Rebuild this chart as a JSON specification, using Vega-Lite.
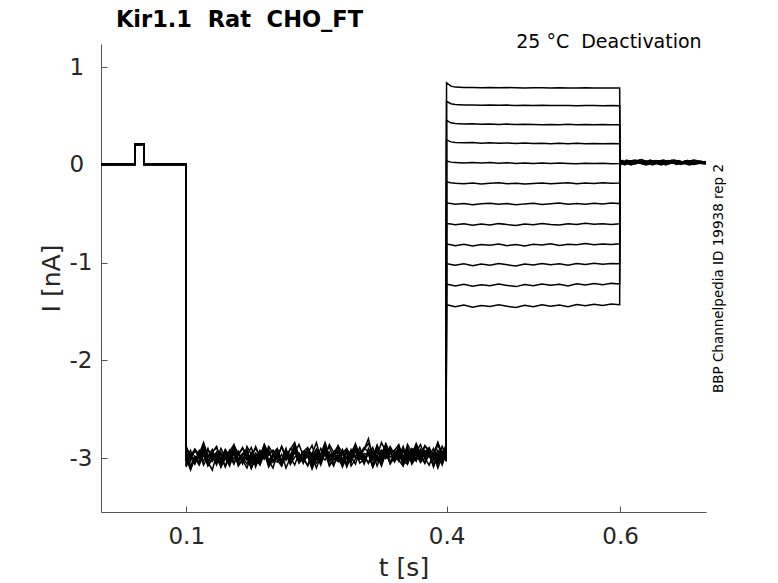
{
"$schema":"https://vega.github.io/schema/vega-lite/v6.json",
"width":605,"height":468,
"autosize":{"type":"none"},
"padding":{"left":101,"top":44,"right":72,"bottom":71},
"background":"white",
"config":{"view":{"stroke":null},"font":"DejaVu Sans"},
"resolve":{"axis":{"y":"independent"}},
"layer":[
{"data":{"values":[
{"k":1,"t":0.0018,"i":0.005},{"k":1,"t":0.041,"i":0.005},{"k":1,"t":0.0412,"i":0.21},{"k":1,"t":0.0513,"i":0.21},{"k":1,"t":0.0515,"i":0.005},{"k":1,"t":0.0995,"i":0.005},
{"k":1,"t":0.1,"i":-2.95},{"k":1,"t":0.105,"i":-3.03},{"k":1,"t":0.11,"i":-2.91},{"k":1,"t":0.115,"i":-3.00},{"k":1,"t":0.12,"i":-2.90},{"k":1,"t":0.125,"i":-3.04},{"k":1,"t":0.13,"i":-2.97},{"k":1,"t":0.135,"i":-3.07},{"k":1,"t":0.14,"i":-2.94},{"k":1,"t":0.145,"i":-3.01},{"k":1,"t":0.15,"i":-2.92},{"k":1,"t":0.155,"i":-3.05},{"k":1,"t":0.16,"i":-2.96},{"k":1,"t":0.165,"i":-2.89},{"k":1,"t":0.17,"i":-3.02},{"k":1,"t":0.175,"i":-2.98},{"k":1,"t":0.18,"i":-3.06},{"k":1,"t":0.185,"i":-2.93},{"k":1,"t":0.19,"i":-2.99},{"k":1,"t":0.195,"i":-2.91},
{"k":1,"t":0.2,"i":-3.03},{"k":1,"t":0.205,"i":-2.94},{"k":1,"t":0.21,"i":-3.07},{"k":1,"t":0.215,"i":-2.93},{"k":1,"t":0.22,"i":-2.99},{"k":1,"t":0.225,"i":-2.89},{"k":1,"t":0.23,"i":-3.02},{"k":1,"t":0.235,"i":-2.96},{"k":1,"t":0.24,"i":-2.91},{"k":1,"t":0.245,"i":-3.04},{"k":1,"t":0.25,"i":-2.95},{"k":1,"t":0.255,"i":-3.00},{"k":1,"t":0.26,"i":-2.88},{"k":1,"t":0.265,"i":-3.03},{"k":1,"t":0.27,"i":-2.97},{"k":1,"t":0.275,"i":-2.92},{"k":1,"t":0.28,"i":-3.05},{"k":1,"t":0.285,"i":-2.94},{"k":1,"t":0.29,"i":-3.01},{"k":1,"t":0.295,"i":-2.90},
{"k":1,"t":0.3,"i":-2.97},{"k":1,"t":0.305,"i":-3.05},{"k":1,"t":0.31,"i":-2.90},{"k":1,"t":0.315,"i":-2.98},{"k":1,"t":0.32,"i":-2.92},{"k":1,"t":0.325,"i":-3.01},{"k":1,"t":0.33,"i":-2.88},{"k":1,"t":0.335,"i":-2.99},{"k":1,"t":0.34,"i":-2.95},{"k":1,"t":0.345,"i":-3.03},{"k":1,"t":0.35,"i":-2.91},{"k":1,"t":0.355,"i":-3.00},{"k":1,"t":0.36,"i":-2.94},{"k":1,"t":0.365,"i":-2.87},{"k":1,"t":0.37,"i":-3.02},{"k":1,"t":0.375,"i":-2.96},{"k":1,"t":0.38,"i":-2.98},{"k":1,"t":0.385,"i":-2.90},{"k":1,"t":0.39,"i":-3.04},{"k":1,"t":0.395,"i":-2.93},{"k":1,"t":0.3995,"i":-3.01},
{"k":1,"t":0.4,"i":0.84},{"k":1,"t":0.405,"i":0.805},{"k":1,"t":0.41,"i":0.795},{"k":1,"t":0.42,"i":0.79},{"k":1,"t":0.43,"i":0.792},{"k":1,"t":0.44,"i":0.789},{"k":1,"t":0.45,"i":0.79},{"k":1,"t":0.46,"i":0.788},{"k":1,"t":0.47,"i":0.79},{"k":1,"t":0.48,"i":0.789},{"k":1,"t":0.49,"i":0.787},{"k":1,"t":0.5,"i":0.789},{"k":1,"t":0.51,"i":0.788},{"k":1,"t":0.52,"i":0.786},{"k":1,"t":0.53,"i":0.788},{"k":1,"t":0.54,"i":0.787},{"k":1,"t":0.55,"i":0.786},{"k":1,"t":0.56,"i":0.788},{"k":1,"t":0.57,"i":0.786},{"k":1,"t":0.58,"i":0.787},{"k":1,"t":0.59,"i":0.786},{"k":1,"t":0.5995,"i":0.786},
{"k":1,"t":0.6,"i":0.04},{"k":1,"t":0.61,"i":0.02},{"k":1,"t":0.62,"i":0.045},{"k":1,"t":0.63,"i":0.01},{"k":1,"t":0.64,"i":0.035},{"k":1,"t":0.65,"i":0.015},{"k":1,"t":0.66,"i":0.04},{"k":1,"t":0.67,"i":0.005},{"k":1,"t":0.68,"i":0.03},{"k":1,"t":0.69,"i":0.02},{"k":1,"t":0.699,"i":0.025},
{"k":2,"t":0.0018,"i":0},{"k":2,"t":0.041,"i":0},{"k":2,"t":0.0412,"i":0.205},{"k":2,"t":0.0513,"i":0.205},{"k":2,"t":0.0515,"i":0},{"k":2,"t":0.0995,"i":0},
{"k":2,"t":0.1,"i":-3.09},{"k":2,"t":0.105,"i":-2.96},{"k":2,"t":0.11,"i":-3.03},{"k":2,"t":0.115,"i":-2.94},{"k":2,"t":0.12,"i":-3.07},{"k":2,"t":0.125,"i":-2.98},{"k":2,"t":0.13,"i":-2.91},{"k":2,"t":0.135,"i":-3.04},{"k":2,"t":0.14,"i":-3.00},{"k":2,"t":0.145,"i":-3.08},{"k":2,"t":0.15,"i":-2.95},{"k":2,"t":0.155,"i":-3.01},{"k":2,"t":0.16,"i":-2.93},{"k":2,"t":0.165,"i":-3.06},{"k":2,"t":0.17,"i":-2.97},{"k":2,"t":0.175,"i":-3.10},{"k":2,"t":0.18,"i":-2.96},{"k":2,"t":0.185,"i":-3.02},{"k":2,"t":0.19,"i":-2.92},{"k":2,"t":0.195,"i":-3.05},
{"k":2,"t":0.2,"i":-2.98},{"k":2,"t":0.205,"i":-2.93},{"k":2,"t":0.21,"i":-3.06},{"k":2,"t":0.215,"i":-2.97},{"k":2,"t":0.22,"i":-3.02},{"k":2,"t":0.225,"i":-2.90},{"k":2,"t":0.23,"i":-3.05},{"k":2,"t":0.235,"i":-2.99},{"k":2,"t":0.24,"i":-2.94},{"k":2,"t":0.245,"i":-3.07},{"k":2,"t":0.25,"i":-2.96},{"k":2,"t":0.255,"i":-3.03},{"k":2,"t":0.26,"i":-2.92},{"k":2,"t":0.265,"i":-3.00},{"k":2,"t":0.27,"i":-3.08},{"k":2,"t":0.275,"i":-2.93},{"k":2,"t":0.28,"i":-3.01},{"k":2,"t":0.285,"i":-2.95},{"k":2,"t":0.29,"i":-3.04},{"k":2,"t":0.295,"i":-2.91},
{"k":2,"t":0.3,"i":-3.01},{"k":2,"t":0.305,"i":-2.97},{"k":2,"t":0.31,"i":-3.05},{"k":2,"t":0.315,"i":-2.93},{"k":2,"t":0.32,"i":-3.02},{"k":2,"t":0.325,"i":-2.96},{"k":2,"t":0.33,"i":-2.89},{"k":2,"t":0.335,"i":-3.04},{"k":2,"t":0.34,"i":-2.98},{"k":2,"t":0.345,"i":-3.00},{"k":2,"t":0.35,"i":-2.92},{"k":2,"t":0.355,"i":-3.06},{"k":2,"t":0.36,"i":-2.95},{"k":2,"t":0.365,"i":-3.03},{"k":2,"t":0.37,"i":-2.91},{"k":2,"t":0.375,"i":-2.99},{"k":2,"t":0.38,"i":-2.94},{"k":2,"t":0.385,"i":-3.07},{"k":2,"t":0.39,"i":-2.96},{"k":2,"t":0.395,"i":-3.01},{"k":2,"t":0.3995,"i":-2.90},
{"k":2,"t":0.4,"i":0.65},{"k":2,"t":0.405,"i":0.625},{"k":2,"t":0.41,"i":0.617},{"k":2,"t":0.42,"i":0.613},{"k":2,"t":0.43,"i":0.612},{"k":2,"t":0.44,"i":0.61},{"k":2,"t":0.45,"i":0.612},{"k":2,"t":0.46,"i":0.609},{"k":2,"t":0.47,"i":0.611},{"k":2,"t":0.48,"i":0.608},{"k":2,"t":0.49,"i":0.61},{"k":2,"t":0.5,"i":0.607},{"k":2,"t":0.51,"i":0.609},{"k":2,"t":0.52,"i":0.606},{"k":2,"t":0.53,"i":0.608},{"k":2,"t":0.54,"i":0.607},{"k":2,"t":0.55,"i":0.605},{"k":2,"t":0.56,"i":0.607},{"k":2,"t":0.57,"i":0.606},{"k":2,"t":0.58,"i":0.605},{"k":2,"t":0.59,"i":0.607},{"k":2,"t":0.5995,"i":0.605},
{"k":2,"t":0.6,"i":0.01},{"k":2,"t":0.6075,"i":0.05},{"k":2,"t":0.6175,"i":0.015},{"k":2,"t":0.6275,"i":0.04},{"k":2,"t":0.6375,"i":0.0},{"k":2,"t":0.6475,"i":0.035},{"k":2,"t":0.6575,"i":0.02},{"k":2,"t":0.6675,"i":0.045},{"k":2,"t":0.6775,"i":0.01},{"k":2,"t":0.6875,"i":0.03},{"k":2,"t":0.699,"i":0.015},
{"k":3,"t":0.0018,"i":0.01},{"k":3,"t":0.041,"i":0.01},{"k":3,"t":0.0412,"i":0.215},{"k":3,"t":0.0513,"i":0.215},{"k":3,"t":0.0515,"i":0.01},{"k":3,"t":0.0995,"i":0.01},
{"k":3,"t":0.1,"i":-3.01},{"k":3,"t":0.105,"i":-2.97},{"k":3,"t":0.11,"i":-3.05},{"k":3,"t":0.115,"i":-2.92},{"k":3,"t":0.12,"i":-2.98},{"k":3,"t":0.125,"i":-2.90},{"k":3,"t":0.13,"i":-3.03},{"k":3,"t":0.135,"i":-2.94},{"k":3,"t":0.14,"i":-3.07},{"k":3,"t":0.145,"i":-2.93},{"k":3,"t":0.15,"i":-2.99},{"k":3,"t":0.155,"i":-2.89},{"k":3,"t":0.16,"i":-3.02},{"k":3,"t":0.165,"i":-2.96},{"k":3,"t":0.17,"i":-2.91},{"k":3,"t":0.175,"i":-3.04},{"k":3,"t":0.18,"i":-2.95},{"k":3,"t":0.185,"i":-3.00},{"k":3,"t":0.19,"i":-2.88},{"k":3,"t":0.195,"i":-3.03},
{"k":3,"t":0.2,"i":-2.96},{"k":3,"t":0.205,"i":-2.91},{"k":3,"t":0.21,"i":-3.04},{"k":3,"t":0.215,"i":-2.93},{"k":3,"t":0.22,"i":-3.00},{"k":3,"t":0.225,"i":-2.89},{"k":3,"t":0.23,"i":-2.97},{"k":3,"t":0.235,"i":-3.05},{"k":3,"t":0.24,"i":-2.90},{"k":3,"t":0.245,"i":-2.98},{"k":3,"t":0.25,"i":-2.92},{"k":3,"t":0.255,"i":-3.01},{"k":3,"t":0.26,"i":-2.88},{"k":3,"t":0.265,"i":-2.99},{"k":3,"t":0.27,"i":-2.95},{"k":3,"t":0.275,"i":-3.03},{"k":3,"t":0.28,"i":-2.91},{"k":3,"t":0.285,"i":-3.00},{"k":3,"t":0.29,"i":-2.94},{"k":3,"t":0.295,"i":-2.87},
{"k":3,"t":0.3,"i":-3.01},{"k":3,"t":0.305,"i":-2.95},{"k":3,"t":0.31,"i":-2.97},{"k":3,"t":0.315,"i":-2.89},{"k":3,"t":0.32,"i":-3.03},{"k":3,"t":0.325,"i":-2.92},{"k":3,"t":0.33,"i":-3.00},{"k":3,"t":0.335,"i":-2.88},{"k":3,"t":0.34,"i":-2.96},{"k":3,"t":0.345,"i":-2.91},{"k":3,"t":0.35,"i":-3.04},{"k":3,"t":0.355,"i":-2.93},{"k":3,"t":0.36,"i":-2.98},{"k":3,"t":0.365,"i":-2.87},{"k":3,"t":0.37,"i":-3.01},{"k":3,"t":0.375,"i":-2.94},{"k":3,"t":0.38,"i":-2.90},{"k":3,"t":0.385,"i":-3.02},{"k":3,"t":0.39,"i":-2.92},{"k":3,"t":0.395,"i":-2.97},{"k":3,"t":0.3995,"i":-2.86},
{"k":3,"t":0.4,"i":0.455},{"k":3,"t":0.405,"i":0.43},{"k":3,"t":0.41,"i":0.423},{"k":3,"t":0.42,"i":0.418},{"k":3,"t":0.43,"i":0.42},{"k":3,"t":0.44,"i":0.415},{"k":3,"t":0.45,"i":0.418},{"k":3,"t":0.46,"i":0.414},{"k":3,"t":0.47,"i":0.417},{"k":3,"t":0.48,"i":0.412},{"k":3,"t":0.49,"i":0.416},{"k":3,"t":0.5,"i":0.413},{"k":3,"t":0.51,"i":0.41},{"k":3,"t":0.52,"i":0.414},{"k":3,"t":0.53,"i":0.411},{"k":3,"t":0.54,"i":0.415},{"k":3,"t":0.55,"i":0.41},{"k":3,"t":0.56,"i":0.413},{"k":3,"t":0.57,"i":0.409},{"k":3,"t":0.58,"i":0.412},{"k":3,"t":0.59,"i":0.41},{"k":3,"t":0.5995,"i":0.411},
{"k":3,"t":0.6,"i":0.03},{"k":3,"t":0.605,"i":0.0},{"k":3,"t":0.615,"i":0.035},{"k":3,"t":0.625,"i":0.02},{"k":3,"t":0.635,"i":0.05},{"k":3,"t":0.645,"i":0.01},{"k":3,"t":0.655,"i":0.03},{"k":3,"t":0.665,"i":0.015},{"k":3,"t":0.675,"i":0.04},{"k":3,"t":0.685,"i":0.005},{"k":3,"t":0.699,"i":0.03},
{"k":4,"t":0.0018,"i":0.005},{"k":4,"t":0.041,"i":0.005},{"k":4,"t":0.0412,"i":0.21},{"k":4,"t":0.0513,"i":0.21},{"k":4,"t":0.0515,"i":0.005},{"k":4,"t":0.0995,"i":0.005},
{"k":4,"t":0.1,"i":-2.99},{"k":4,"t":0.105,"i":-3.12},{"k":4,"t":0.11,"i":-2.98},{"k":4,"t":0.115,"i":-3.04},{"k":4,"t":0.12,"i":-2.94},{"k":4,"t":0.125,"i":-3.07},{"k":4,"t":0.13,"i":-3.01},{"k":4,"t":0.135,"i":-2.96},{"k":4,"t":0.14,"i":-3.09},{"k":4,"t":0.145,"i":-3.00},{"k":4,"t":0.15,"i":-3.05},{"k":4,"t":0.155,"i":-2.93},{"k":4,"t":0.16,"i":-3.08},{"k":4,"t":0.165,"i":-3.02},{"k":4,"t":0.17,"i":-2.97},{"k":4,"t":0.175,"i":-3.10},{"k":4,"t":0.18,"i":-2.99},{"k":4,"t":0.185,"i":-3.06},{"k":4,"t":0.19,"i":-2.95},{"k":4,"t":0.195,"i":-3.03},
{"k":4,"t":0.2,"i":-3.10},{"k":4,"t":0.205,"i":-2.95},{"k":4,"t":0.21,"i":-3.03},{"k":4,"t":0.215,"i":-2.97},{"k":4,"t":0.22,"i":-3.06},{"k":4,"t":0.225,"i":-2.93},{"k":4,"t":0.23,"i":-3.04},{"k":4,"t":0.235,"i":-3.00},{"k":4,"t":0.24,"i":-3.08},{"k":4,"t":0.245,"i":-2.96},{"k":4,"t":0.25,"i":-3.05},{"k":4,"t":0.255,"i":-2.99},{"k":4,"t":0.26,"i":-2.92},{"k":4,"t":0.265,"i":-3.07},{"k":4,"t":0.27,"i":-3.01},{"k":4,"t":0.275,"i":-3.03},{"k":4,"t":0.28,"i":-2.95},{"k":4,"t":0.285,"i":-3.09},{"k":4,"t":0.29,"i":-2.98},{"k":4,"t":0.295,"i":-3.06},
{"k":4,"t":0.3,"i":-2.93},{"k":4,"t":0.305,"i":-3.01},{"k":4,"t":0.31,"i":-2.96},{"k":4,"t":0.315,"i":-3.09},{"k":4,"t":0.32,"i":-2.98},{"k":4,"t":0.325,"i":-3.03},{"k":4,"t":0.33,"i":-2.92},{"k":4,"t":0.335,"i":-3.06},{"k":4,"t":0.34,"i":-2.99},{"k":4,"t":0.345,"i":-2.95},{"k":4,"t":0.35,"i":-3.07},{"k":4,"t":0.355,"i":-2.97},{"k":4,"t":0.36,"i":-3.02},{"k":4,"t":0.365,"i":-2.90},{"k":4,"t":0.37,"i":-3.04},{"k":4,"t":0.375,"i":-3.00},{"k":4,"t":0.38,"i":-2.94},{"k":4,"t":0.385,"i":-3.08},{"k":4,"t":0.39,"i":-2.98},{"k":4,"t":0.395,"i":-3.05},{"k":4,"t":0.3995,"i":-2.93},
{"k":4,"t":0.4,"i":0.255},{"k":4,"t":0.405,"i":0.235},{"k":4,"t":0.41,"i":0.228},{"k":4,"t":0.42,"i":0.225},{"k":4,"t":0.43,"i":0.228},{"k":4,"t":0.44,"i":0.222},{"k":4,"t":0.45,"i":0.226},{"k":4,"t":0.46,"i":0.22},{"k":4,"t":0.47,"i":0.224},{"k":4,"t":0.48,"i":0.219},{"k":4,"t":0.49,"i":0.223},{"k":4,"t":0.5,"i":0.218},{"k":4,"t":0.51,"i":0.222},{"k":4,"t":0.52,"i":0.217},{"k":4,"t":0.53,"i":0.221},{"k":4,"t":0.54,"i":0.216},{"k":4,"t":0.55,"i":0.22},{"k":4,"t":0.56,"i":0.215},{"k":4,"t":0.57,"i":0.219},{"k":4,"t":0.58,"i":0.216},{"k":4,"t":0.59,"i":0.218},{"k":4,"t":0.5995,"i":0.217},
{"k":4,"t":0.6,"i":0.05},{"k":4,"t":0.6025,"i":0.025},{"k":4,"t":0.6125,"i":0.005},{"k":4,"t":0.6225,"i":0.04},{"k":4,"t":0.6325,"i":0.015},{"k":4,"t":0.6425,"i":0.045},{"k":4,"t":0.6525,"i":0.0},{"k":4,"t":0.6625,"i":0.03},{"k":4,"t":0.6725,"i":0.02},{"k":4,"t":0.6825,"i":0.04},{"k":4,"t":0.6925,"i":0.02},{"k":4,"t":0.699,"i":0.03},
{"k":5,"t":0.0018,"i":0},{"k":5,"t":0.041,"i":0},{"k":5,"t":0.0412,"i":0.205},{"k":5,"t":0.0513,"i":0.205},{"k":5,"t":0.0515,"i":0},{"k":5,"t":0.0995,"i":0},
{"k":5,"t":0.1,"i":-2.88},{"k":5,"t":0.105,"i":-3.01},{"k":5,"t":0.11,"i":-2.92},{"k":5,"t":0.115,"i":-2.97},{"k":5,"t":0.12,"i":-2.85},{"k":5,"t":0.125,"i":-3.00},{"k":5,"t":0.13,"i":-2.94},{"k":5,"t":0.135,"i":-2.89},{"k":5,"t":0.14,"i":-3.02},{"k":5,"t":0.145,"i":-2.91},{"k":5,"t":0.15,"i":-2.98},{"k":5,"t":0.155,"i":-2.87},{"k":5,"t":0.16,"i":-2.95},{"k":5,"t":0.165,"i":-3.03},{"k":5,"t":0.17,"i":-2.88},{"k":5,"t":0.175,"i":-2.96},{"k":5,"t":0.18,"i":-2.90},{"k":5,"t":0.185,"i":-2.99},{"k":5,"t":0.19,"i":-2.86},{"k":5,"t":0.195,"i":-2.97},
{"k":5,"t":0.2,"i":-2.92},{"k":5,"t":0.205,"i":-3.00},{"k":5,"t":0.21,"i":-2.88},{"k":5,"t":0.215,"i":-2.97},{"k":5,"t":0.22,"i":-2.91},{"k":5,"t":0.225,"i":-2.84},{"k":5,"t":0.23,"i":-2.99},{"k":5,"t":0.235,"i":-2.93},{"k":5,"t":0.24,"i":-2.95},{"k":5,"t":0.245,"i":-2.87},{"k":5,"t":0.25,"i":-3.01},{"k":5,"t":0.255,"i":-2.90},{"k":5,"t":0.26,"i":-2.98},{"k":5,"t":0.265,"i":-2.86},{"k":5,"t":0.27,"i":-2.94},{"k":5,"t":0.275,"i":-2.89},{"k":5,"t":0.28,"i":-3.02},{"k":5,"t":0.285,"i":-2.91},{"k":5,"t":0.29,"i":-2.96},{"k":5,"t":0.295,"i":-2.85},
{"k":5,"t":0.3,"i":-2.98},{"k":5,"t":0.305,"i":-2.91},{"k":5,"t":0.31,"i":-2.80},{"k":5,"t":0.315,"i":-2.99},{"k":5,"t":0.32,"i":-2.89},{"k":5,"t":0.325,"i":-2.94},{"k":5,"t":0.33,"i":-2.88},{"k":5,"t":0.335,"i":-2.96},{"k":5,"t":0.34,"i":-2.92},{"k":5,"t":0.345,"i":-2.86},{"k":5,"t":0.35,"i":-3.00},{"k":5,"t":0.355,"i":-2.90},{"k":5,"t":0.36,"i":-2.97},{"k":5,"t":0.365,"i":-2.85},{"k":5,"t":0.37,"i":-2.95},{"k":5,"t":0.375,"i":-2.88},{"k":5,"t":0.38,"i":-2.93},{"k":5,"t":0.385,"i":-2.99},{"k":5,"t":0.39,"i":-2.86},{"k":5,"t":0.395,"i":-2.96},{"k":5,"t":0.3995,"i":-2.90},
{"k":5,"t":0.4,"i":0.04},{"k":5,"t":0.405,"i":0.028},{"k":5,"t":0.41,"i":0.025},{"k":5,"t":0.42,"i":0.02},{"k":5,"t":0.43,"i":0.024},{"k":5,"t":0.44,"i":0.018},{"k":5,"t":0.45,"i":0.023},{"k":5,"t":0.46,"i":0.016},{"k":5,"t":0.47,"i":0.021},{"k":5,"t":0.48,"i":0.015},{"k":5,"t":0.49,"i":0.02},{"k":5,"t":0.5,"i":0.014},{"k":5,"t":0.51,"i":0.019},{"k":5,"t":0.52,"i":0.013},{"k":5,"t":0.53,"i":0.018},{"k":5,"t":0.54,"i":0.015},{"k":5,"t":0.55,"i":0.011},{"k":5,"t":0.56,"i":0.017},{"k":5,"t":0.57,"i":0.013},{"k":5,"t":0.58,"i":0.016},{"k":5,"t":0.59,"i":0.012},{"k":5,"t":0.5995,"i":0.015},
{"k":5,"t":0.6,"i":0.02},{"k":5,"t":0.61,"i":0.04},{"k":5,"t":0.62,"i":0.025},{"k":5,"t":0.63,"i":0.0},{"k":5,"t":0.64,"i":0.03},{"k":5,"t":0.65,"i":0.05},{"k":5,"t":0.66,"i":0.02},{"k":5,"t":0.67,"i":0.035},{"k":5,"t":0.68,"i":0.005},{"k":5,"t":0.69,"i":0.025},{"k":5,"t":0.699,"i":0.035},
{"k":6,"t":0.0018,"i":0.01},{"k":6,"t":0.041,"i":0.01},{"k":6,"t":0.0412,"i":0.215},{"k":6,"t":0.0513,"i":0.215},{"k":6,"t":0.0515,"i":0.01},{"k":6,"t":0.0995,"i":0.01},
{"k":6,"t":0.1,"i":-2.98},{"k":6,"t":0.105,"i":-3.11},{"k":6,"t":0.11,"i":-3.00},{"k":6,"t":0.115,"i":-3.07},{"k":6,"t":0.12,"i":-2.96},{"k":6,"t":0.125,"i":-3.04},{"k":6,"t":0.13,"i":-3.12},{"k":6,"t":0.135,"i":-2.97},{"k":6,"t":0.14,"i":-3.05},{"k":6,"t":0.145,"i":-2.99},{"k":6,"t":0.15,"i":-3.08},{"k":6,"t":0.155,"i":-2.95},{"k":6,"t":0.16,"i":-3.06},{"k":6,"t":0.165,"i":-3.02},{"k":6,"t":0.17,"i":-3.10},{"k":6,"t":0.175,"i":-2.98},{"k":6,"t":0.18,"i":-3.07},{"k":6,"t":0.185,"i":-3.01},{"k":6,"t":0.19,"i":-2.94},{"k":6,"t":0.195,"i":-3.09},
{"k":6,"t":0.2,"i":-3.02},{"k":6,"t":0.205,"i":-3.04},{"k":6,"t":0.21,"i":-2.96},{"k":6,"t":0.215,"i":-3.10},{"k":6,"t":0.22,"i":-2.99},{"k":6,"t":0.225,"i":-3.07},{"k":6,"t":0.23,"i":-2.95},{"k":6,"t":0.235,"i":-3.03},{"k":6,"t":0.24,"i":-2.98},{"k":6,"t":0.245,"i":-3.11},{"k":6,"t":0.25,"i":-3.00},{"k":6,"t":0.255,"i":-3.05},{"k":6,"t":0.26,"i":-2.94},{"k":6,"t":0.265,"i":-3.08},{"k":6,"t":0.27,"i":-3.01},{"k":6,"t":0.275,"i":-2.97},{"k":6,"t":0.28,"i":-3.09},{"k":6,"t":0.285,"i":-2.99},{"k":6,"t":0.29,"i":-3.04},{"k":6,"t":0.295,"i":-2.92},
{"k":6,"t":0.3,"i":-3.05},{"k":6,"t":0.305,"i":-3.01},{"k":6,"t":0.31,"i":-2.95},{"k":6,"t":0.315,"i":-3.09},{"k":6,"t":0.32,"i":-2.99},{"k":6,"t":0.325,"i":-3.06},{"k":6,"t":0.33,"i":-2.94},{"k":6,"t":0.335,"i":-3.04},{"k":6,"t":0.34,"i":-2.97},{"k":6,"t":0.345,"i":-3.02},{"k":6,"t":0.35,"i":-3.08},{"k":6,"t":0.355,"i":-2.95},{"k":6,"t":0.36,"i":-3.05},{"k":6,"t":0.365,"i":-2.93},{"k":6,"t":0.37,"i":-3.03},{"k":6,"t":0.375,"i":-3.00},{"k":6,"t":0.38,"i":-3.07},{"k":6,"t":0.385,"i":-2.96},{"k":6,"t":0.39,"i":-3.10},{"k":6,"t":0.395,"i":-2.98},{"k":6,"t":0.3995,"i":-3.02},
{"k":6,"t":0.4,"i":-0.175},{"k":6,"t":0.405,"i":-0.183},{"k":6,"t":0.41,"i":-0.188},{"k":6,"t":0.42,"i":-0.192},{"k":6,"t":0.43,"i":-0.186},{"k":6,"t":0.44,"i":-0.195},{"k":6,"t":0.45,"i":-0.189},{"k":6,"t":0.46,"i":-0.184},{"k":6,"t":0.47,"i":-0.193},{"k":6,"t":0.48,"i":-0.187},{"k":6,"t":0.49,"i":-0.196},{"k":6,"t":0.5,"i":-0.19},{"k":6,"t":0.51,"i":-0.185},{"k":6,"t":0.52,"i":-0.194},{"k":6,"t":0.53,"i":-0.188},{"k":6,"t":0.54,"i":-0.183},{"k":6,"t":0.55,"i":-0.192},{"k":6,"t":0.56,"i":-0.186},{"k":6,"t":0.57,"i":-0.19},{"k":6,"t":0.58,"i":-0.184},{"k":6,"t":0.59,"i":-0.189},{"k":6,"t":0.5995,"i":-0.186},
{"k":6,"t":0.6,"i":0.0},{"k":6,"t":0.6075,"i":0.03},{"k":6,"t":0.6175,"i":0.05},{"k":6,"t":0.6275,"i":0.02},{"k":6,"t":0.6375,"i":0.04},{"k":6,"t":0.6475,"i":0.005},{"k":6,"t":0.6575,"i":0.035},{"k":6,"t":0.6675,"i":0.015},{"k":6,"t":0.6775,"i":0.045},{"k":6,"t":0.6875,"i":0.02},{"k":6,"t":0.699,"i":0.01},
{"k":7,"t":0.0018,"i":0.005},{"k":7,"t":0.041,"i":0.005},{"k":7,"t":0.0412,"i":0.21},{"k":7,"t":0.0513,"i":0.21},{"k":7,"t":0.0515,"i":0.005},{"k":7,"t":0.0995,"i":0.005},
{"k":7,"t":0.1,"i":-2.89},{"k":7,"t":0.105,"i":-2.97},{"k":7,"t":0.11,"i":-2.91},{"k":7,"t":0.115,"i":-3.00},{"k":7,"t":0.12,"i":-2.87},{"k":7,"t":0.125,"i":-2.98},{"k":7,"t":0.13,"i":-2.94},{"k":7,"t":0.135,"i":-3.02},{"k":7,"t":0.14,"i":-2.90},{"k":7,"t":0.145,"i":-2.99},{"k":7,"t":0.15,"i":-2.93},{"k":7,"t":0.155,"i":-2.86},{"k":7,"t":0.16,"i":-3.01},{"k":7,"t":0.165,"i":-2.95},{"k":7,"t":0.17,"i":-2.97},{"k":7,"t":0.175,"i":-2.89},{"k":7,"t":0.18,"i":-3.03},{"k":7,"t":0.185,"i":-2.92},{"k":7,"t":0.19,"i":-3.00},{"k":7,"t":0.195,"i":-2.88},
{"k":7,"t":0.2,"i":-2.95},{"k":7,"t":0.205,"i":-2.90},{"k":7,"t":0.21,"i":-3.03},{"k":7,"t":0.215,"i":-2.92},{"k":7,"t":0.22,"i":-2.97},{"k":7,"t":0.225,"i":-2.86},{"k":7,"t":0.23,"i":-3.00},{"k":7,"t":0.235,"i":-2.93},{"k":7,"t":0.24,"i":-2.89},{"k":7,"t":0.245,"i":-3.01},{"k":7,"t":0.25,"i":-2.91},{"k":7,"t":0.255,"i":-2.96},{"k":7,"t":0.26,"i":-2.84},{"k":7,"t":0.265,"i":-2.98},{"k":7,"t":0.27,"i":-2.94},{"k":7,"t":0.275,"i":-2.88},{"k":7,"t":0.28,"i":-3.02},{"k":7,"t":0.285,"i":-2.92},{"k":7,"t":0.29,"i":-2.99},{"k":7,"t":0.295,"i":-2.87},
{"k":7,"t":0.3,"i":-2.96},{"k":7,"t":0.305,"i":-2.89},{"k":7,"t":0.31,"i":-2.94},{"k":7,"t":0.315,"i":-3.00},{"k":7,"t":0.32,"i":-2.87},{"k":7,"t":0.325,"i":-2.97},{"k":7,"t":0.33,"i":-2.85},{"k":7,"t":0.335,"i":-2.95},{"k":7,"t":0.34,"i":-2.92},{"k":7,"t":0.345,"i":-2.99},{"k":7,"t":0.35,"i":-2.88},{"k":7,"t":0.355,"i":-3.02},{"k":7,"t":0.36,"i":-2.90},{"k":7,"t":0.365,"i":-2.94},{"k":7,"t":0.37,"i":-2.86},{"k":7,"t":0.375,"i":-2.98},{"k":7,"t":0.38,"i":-2.91},{"k":7,"t":0.385,"i":-2.96},{"k":7,"t":0.39,"i":-2.84},{"k":7,"t":0.395,"i":-3.00},{"k":7,"t":0.3995,"i":-2.93},
{"k":7,"t":0.4,"i":-0.39},{"k":7,"t":0.405,"i":-0.395},{"k":7,"t":0.41,"i":-0.402},{"k":7,"t":0.42,"i":-0.395},{"k":7,"t":0.43,"i":-0.407},{"k":7,"t":0.44,"i":-0.398},{"k":7,"t":0.45,"i":-0.392},{"k":7,"t":0.46,"i":-0.404},{"k":7,"t":0.47,"i":-0.396},{"k":7,"t":0.48,"i":-0.409},{"k":7,"t":0.49,"i":-0.399},{"k":7,"t":0.5,"i":-0.393},{"k":7,"t":0.51,"i":-0.405},{"k":7,"t":0.52,"i":-0.397},{"k":7,"t":0.53,"i":-0.39},{"k":7,"t":0.54,"i":-0.402},{"k":7,"t":0.55,"i":-0.395},{"k":7,"t":0.56,"i":-0.404},{"k":7,"t":0.57,"i":-0.393},{"k":7,"t":0.58,"i":-0.399},{"k":7,"t":0.59,"i":-0.391},{"k":7,"t":0.5995,"i":-0.396},
{"k":7,"t":0.6,"i":0.035},{"k":7,"t":0.605,"i":0.01},{"k":7,"t":0.615,"i":0.03},{"k":7,"t":0.625,"i":0.055},{"k":7,"t":0.635,"i":0.01},{"k":7,"t":0.645,"i":0.025},{"k":7,"t":0.655,"i":0.045},{"k":7,"t":0.665,"i":0.005},{"k":7,"t":0.675,"i":0.03},{"k":7,"t":0.685,"i":0.05},{"k":7,"t":0.699,"i":0.025},
{"k":8,"t":0.0018,"i":0},{"k":8,"t":0.041,"i":0},{"k":8,"t":0.0412,"i":0.205},{"k":8,"t":0.0513,"i":0.205},{"k":8,"t":0.0515,"i":0},{"k":8,"t":0.0995,"i":0},
{"k":8,"t":0.1,"i":-3.08},{"k":8,"t":0.105,"i":-2.96},{"k":8,"t":0.11,"i":-3.05},{"k":8,"t":0.115,"i":-2.99},{"k":8,"t":0.12,"i":-2.92},{"k":8,"t":0.125,"i":-3.07},{"k":8,"t":0.13,"i":-3.01},{"k":8,"t":0.135,"i":-3.03},{"k":8,"t":0.14,"i":-2.95},{"k":8,"t":0.145,"i":-3.09},{"k":8,"t":0.15,"i":-2.98},{"k":8,"t":0.155,"i":-3.06},{"k":8,"t":0.16,"i":-2.94},{"k":8,"t":0.165,"i":-3.02},{"k":8,"t":0.17,"i":-2.97},{"k":8,"t":0.175,"i":-3.10},{"k":8,"t":0.18,"i":-2.99},{"k":8,"t":0.185,"i":-3.04},{"k":8,"t":0.19,"i":-2.93},{"k":8,"t":0.195,"i":-3.07},
{"k":8,"t":0.2,"i":-2.99},{"k":8,"t":0.205,"i":-2.95},{"k":8,"t":0.21,"i":-3.07},{"k":8,"t":0.215,"i":-2.97},{"k":8,"t":0.22,"i":-3.02},{"k":8,"t":0.225,"i":-2.90},{"k":8,"t":0.23,"i":-3.04},{"k":8,"t":0.235,"i":-3.00},{"k":8,"t":0.24,"i":-2.94},{"k":8,"t":0.245,"i":-3.08},{"k":8,"t":0.25,"i":-2.98},{"k":8,"t":0.255,"i":-3.05},{"k":8,"t":0.26,"i":-2.93},{"k":8,"t":0.265,"i":-3.03},{"k":8,"t":0.27,"i":-2.96},{"k":8,"t":0.275,"i":-3.01},{"k":8,"t":0.28,"i":-3.07},{"k":8,"t":0.285,"i":-2.94},{"k":8,"t":0.29,"i":-3.04},{"k":8,"t":0.295,"i":-2.92},
{"k":8,"t":0.3,"i":-3.01},{"k":8,"t":0.305,"i":-2.98},{"k":8,"t":0.31,"i":-3.05},{"k":8,"t":0.315,"i":-2.94},{"k":8,"t":0.32,"i":-3.08},{"k":8,"t":0.325,"i":-2.96},{"k":8,"t":0.33,"i":-3.00},{"k":8,"t":0.335,"i":-2.92},{"k":8,"t":0.34,"i":-3.04},{"k":8,"t":0.345,"i":-2.97},{"k":8,"t":0.35,"i":-3.02},{"k":8,"t":0.355,"i":-2.90},{"k":8,"t":0.36,"i":-3.06},{"k":8,"t":0.365,"i":-2.99},{"k":8,"t":0.37,"i":-2.95},{"k":8,"t":0.375,"i":-3.05},{"k":8,"t":0.38,"i":-2.93},{"k":8,"t":0.385,"i":-3.01},{"k":8,"t":0.39,"i":-2.96},{"k":8,"t":0.395,"i":-3.07},{"k":8,"t":0.3995,"i":-2.94},
{"k":8,"t":0.4,"i":-0.6},{"k":8,"t":0.405,"i":-0.605},{"k":8,"t":0.41,"i":-0.612},{"k":8,"t":0.42,"i":-0.603},{"k":8,"t":0.43,"i":-0.617},{"k":8,"t":0.44,"i":-0.606},{"k":8,"t":0.45,"i":-0.614},{"k":8,"t":0.46,"i":-0.601},{"k":8,"t":0.47,"i":-0.611},{"k":8,"t":0.48,"i":-0.619},{"k":8,"t":0.49,"i":-0.604},{"k":8,"t":0.5,"i":-0.613},{"k":8,"t":0.51,"i":-0.6},{"k":8,"t":0.52,"i":-0.609},{"k":8,"t":0.53,"i":-0.616},{"k":8,"t":0.54,"i":-0.603},{"k":8,"t":0.55,"i":-0.611},{"k":8,"t":0.56,"i":-0.598},{"k":8,"t":0.57,"i":-0.607},{"k":8,"t":0.58,"i":-0.601},{"k":8,"t":0.59,"i":-0.609},{"k":8,"t":0.5995,"i":-0.603},
{"k":8,"t":0.6,"i":0.015},{"k":8,"t":0.6025,"i":0.045},{"k":8,"t":0.6125,"i":0.0},{"k":8,"t":0.6225,"i":0.03},{"k":8,"t":0.6325,"i":0.02},{"k":8,"t":0.6425,"i":0.04},{"k":8,"t":0.6525,"i":0.01},{"k":8,"t":0.6625,"i":0.05},{"k":8,"t":0.6725,"i":0.025},{"k":8,"t":0.6825,"i":0.01},{"k":8,"t":0.6925,"i":0.04},{"k":8,"t":0.699,"i":0.02},
{"k":9,"t":0.0018,"i":0.01},{"k":9,"t":0.041,"i":0.01},{"k":9,"t":0.0412,"i":0.215},{"k":9,"t":0.0513,"i":0.215},{"k":9,"t":0.0515,"i":0.01},{"k":9,"t":0.0995,"i":0.01},
{"k":9,"t":0.1,"i":-3.00},{"k":9,"t":0.105,"i":-2.92},{"k":9,"t":0.11,"i":-3.06},{"k":9,"t":0.115,"i":-2.95},{"k":9,"t":0.12,"i":-3.03},{"k":9,"t":0.125,"i":-2.91},{"k":9,"t":0.13,"i":-2.99},{"k":9,"t":0.135,"i":-2.94},{"k":9,"t":0.14,"i":-3.07},{"k":9,"t":0.145,"i":-2.96},{"k":9,"t":0.15,"i":-3.01},{"k":9,"t":0.155,"i":-2.90},{"k":9,"t":0.16,"i":-3.04},{"k":9,"t":0.165,"i":-2.97},{"k":9,"t":0.17,"i":-2.93},{"k":9,"t":0.175,"i":-3.05},{"k":9,"t":0.18,"i":-2.95},{"k":9,"t":0.185,"i":-3.00},{"k":9,"t":0.19,"i":-2.88},{"k":9,"t":0.195,"i":-3.02},
{"k":9,"t":0.2,"i":-2.97},{"k":9,"t":0.205,"i":-2.91},{"k":9,"t":0.21,"i":-3.05},{"k":9,"t":0.215,"i":-2.95},{"k":9,"t":0.22,"i":-3.02},{"k":9,"t":0.225,"i":-2.90},{"k":9,"t":0.23,"i":-3.00},{"k":9,"t":0.235,"i":-2.93},{"k":9,"t":0.24,"i":-2.98},{"k":9,"t":0.245,"i":-3.04},{"k":9,"t":0.25,"i":-2.91},{"k":9,"t":0.255,"i":-3.01},{"k":9,"t":0.26,"i":-2.89},{"k":9,"t":0.265,"i":-2.99},{"k":9,"t":0.27,"i":-2.96},{"k":9,"t":0.275,"i":-3.03},{"k":9,"t":0.28,"i":-2.92},{"k":9,"t":0.285,"i":-3.06},{"k":9,"t":0.29,"i":-2.94},{"k":9,"t":0.295,"i":-2.98},
{"k":9,"t":0.3,"i":-2.89},{"k":9,"t":0.305,"i":-3.01},{"k":9,"t":0.31,"i":-2.94},{"k":9,"t":0.315,"i":-2.99},{"k":9,"t":0.32,"i":-2.87},{"k":9,"t":0.325,"i":-3.03},{"k":9,"t":0.33,"i":-2.96},{"k":9,"t":0.335,"i":-2.92},{"k":9,"t":0.34,"i":-3.02},{"k":9,"t":0.345,"i":-2.90},{"k":9,"t":0.35,"i":-2.98},{"k":9,"t":0.355,"i":-2.93},{"k":9,"t":0.36,"i":-3.04},{"k":9,"t":0.365,"i":-2.91},{"k":9,"t":0.37,"i":-3.00},{"k":9,"t":0.375,"i":-2.95},{"k":9,"t":0.38,"i":-2.89},{"k":9,"t":0.385,"i":-2.99},{"k":9,"t":0.39,"i":-3.02},{"k":9,"t":0.395,"i":-2.88},{"k":9,"t":0.3995,"i":-2.97},
{"k":9,"t":0.4,"i":-0.81},{"k":9,"t":0.405,"i":-0.817},{"k":9,"t":0.41,"i":-0.826},{"k":9,"t":0.42,"i":-0.812},{"k":9,"t":0.43,"i":-0.83},{"k":9,"t":0.44,"i":-0.815},{"k":9,"t":0.45,"i":-0.823},{"k":9,"t":0.46,"i":-0.809},{"k":9,"t":0.47,"i":-0.826},{"k":9,"t":0.48,"i":-0.814},{"k":9,"t":0.49,"i":-0.829},{"k":9,"t":0.5,"i":-0.811},{"k":9,"t":0.51,"i":-0.82},{"k":9,"t":0.52,"i":-0.807},{"k":9,"t":0.53,"i":-0.824},{"k":9,"t":0.54,"i":-0.812},{"k":9,"t":0.55,"i":-0.818},{"k":9,"t":0.56,"i":-0.805},{"k":9,"t":0.57,"i":-0.816},{"k":9,"t":0.58,"i":-0.809},{"k":9,"t":0.59,"i":-0.814},{"k":9,"t":0.5995,"i":-0.808},
{"k":9,"t":0.6,"i":0.045},{"k":9,"t":0.61,"i":0.02},{"k":9,"t":0.62,"i":0.04},{"k":9,"t":0.63,"i":0.01},{"k":9,"t":0.64,"i":0.045},{"k":9,"t":0.65,"i":0.02},{"k":9,"t":0.66,"i":0.05},{"k":9,"t":0.67,"i":0.025},{"k":9,"t":0.68,"i":0.0},{"k":9,"t":0.69,"i":0.035},{"k":9,"t":0.699,"i":0.02},
{"k":10,"t":0.0018,"i":0.005},{"k":10,"t":0.041,"i":0.005},{"k":10,"t":0.0412,"i":0.21},{"k":10,"t":0.0513,"i":0.21},{"k":10,"t":0.0515,"i":0.005},{"k":10,"t":0.0995,"i":0.005},
{"k":10,"t":0.1,"i":-2.98},{"k":10,"t":0.105,"i":-3.11},{"k":10,"t":0.11,"i":-3.00},{"k":10,"t":0.115,"i":-3.05},{"k":10,"t":0.12,"i":-2.94},{"k":10,"t":0.125,"i":-3.08},{"k":10,"t":0.13,"i":-3.01},{"k":10,"t":0.135,"i":-2.97},{"k":10,"t":0.14,"i":-3.09},{"k":10,"t":0.145,"i":-2.99},{"k":10,"t":0.15,"i":-3.04},{"k":10,"t":0.155,"i":-2.92},{"k":10,"t":0.16,"i":-3.06},{"k":10,"t":0.165,"i":-3.02},{"k":10,"t":0.17,"i":-2.96},{"k":10,"t":0.175,"i":-3.10},{"k":10,"t":0.18,"i":-3.00},{"k":10,"t":0.185,"i":-3.07},{"k":10,"t":0.19,"i":-2.95},{"k":10,"t":0.195,"i":-3.05},
{"k":10,"t":0.2,"i":-2.97},{"k":10,"t":0.205,"i":-3.02},{"k":10,"t":0.21,"i":-3.08},{"k":10,"t":0.215,"i":-2.95},{"k":10,"t":0.22,"i":-3.05},{"k":10,"t":0.225,"i":-2.93},{"k":10,"t":0.23,"i":-3.03},{"k":10,"t":0.235,"i":-3.00},{"k":10,"t":0.24,"i":-3.07},{"k":10,"t":0.245,"i":-2.96},{"k":10,"t":0.25,"i":-3.10},{"k":10,"t":0.255,"i":-2.98},{"k":10,"t":0.26,"i":-3.02},{"k":10,"t":0.265,"i":-2.94},{"k":10,"t":0.27,"i":-3.06},{"k":10,"t":0.275,"i":-2.99},{"k":10,"t":0.28,"i":-3.04},{"k":10,"t":0.285,"i":-2.92},{"k":10,"t":0.29,"i":-3.08},{"k":10,"t":0.295,"i":-3.01},
{"k":10,"t":0.3,"i":-2.96},{"k":10,"t":0.305,"i":-3.06},{"k":10,"t":0.31,"i":-2.94},{"k":10,"t":0.315,"i":-3.02},{"k":10,"t":0.32,"i":-2.97},{"k":10,"t":0.325,"i":-3.08},{"k":10,"t":0.33,"i":-2.95},{"k":10,"t":0.335,"i":-3.04},{"k":10,"t":0.34,"i":-2.99},{"k":10,"t":0.345,"i":-2.93},{"k":10,"t":0.35,"i":-3.03},{"k":10,"t":0.355,"i":-3.06},{"k":10,"t":0.36,"i":-2.92},{"k":10,"t":0.365,"i":-3.01},{"k":10,"t":0.37,"i":-2.98},{"k":10,"t":0.375,"i":-3.05},{"k":10,"t":0.38,"i":-2.96},{"k":10,"t":0.385,"i":-3.09},{"k":10,"t":0.39,"i":-2.94},{"k":10,"t":0.395,"i":-3.02},{"k":10,"t":0.3995,"i":-2.97},
{"k":10,"t":0.4,"i":-1.01},{"k":10,"t":0.405,"i":-1.018},{"k":10,"t":0.41,"i":-1.027},{"k":10,"t":0.42,"i":-1.012},{"k":10,"t":0.43,"i":-1.031},{"k":10,"t":0.44,"i":-1.015},{"k":10,"t":0.45,"i":-1.026},{"k":10,"t":0.46,"i":-1.009},{"k":10,"t":0.47,"i":-1.022},{"k":10,"t":0.48,"i":-1.034},{"k":10,"t":0.49,"i":-1.014},{"k":10,"t":0.5,"i":-1.025},{"k":10,"t":0.51,"i":-1.008},{"k":10,"t":0.52,"i":-1.021},{"k":10,"t":0.53,"i":-1.012},{"k":10,"t":0.54,"i":-1.027},{"k":10,"t":0.55,"i":-1.01},{"k":10,"t":0.56,"i":-1.019},{"k":10,"t":0.57,"i":-1.005},{"k":10,"t":0.58,"i":-1.017},{"k":10,"t":0.59,"i":-1.008},{"k":10,"t":0.5995,"i":-1.012},
{"k":10,"t":0.6,"i":0.02},{"k":10,"t":0.6075,"i":0.035},{"k":10,"t":0.6175,"i":0.01},{"k":10,"t":0.6275,"i":0.045},{"k":10,"t":0.6375,"i":0.025},{"k":10,"t":0.6475,"i":0.0},{"k":10,"t":0.6575,"i":0.04},{"k":10,"t":0.6675,"i":0.02},{"k":10,"t":0.6775,"i":0.045},{"k":10,"t":0.6875,"i":0.015},{"k":10,"t":0.699,"i":0.03},
{"k":11,"t":0.0018,"i":0},{"k":11,"t":0.041,"i":0},{"k":11,"t":0.0412,"i":0.205},{"k":11,"t":0.0513,"i":0.205},{"k":11,"t":0.0515,"i":0},{"k":11,"t":0.0995,"i":0},
{"k":11,"t":0.1,"i":-2.89},{"k":11,"t":0.105,"i":-3.01},{"k":11,"t":0.11,"i":-2.91},{"k":11,"t":0.115,"i":-2.96},{"k":11,"t":0.12,"i":-2.84},{"k":11,"t":0.125,"i":-2.98},{"k":11,"t":0.13,"i":-2.94},{"k":11,"t":0.135,"i":-2.88},{"k":11,"t":0.14,"i":-3.02},{"k":11,"t":0.145,"i":-2.92},{"k":11,"t":0.15,"i":-2.99},{"k":11,"t":0.155,"i":-2.87},{"k":11,"t":0.16,"i":-2.97},{"k":11,"t":0.165,"i":-2.90},{"k":11,"t":0.17,"i":-2.95},{"k":11,"t":0.175,"i":-3.01},{"k":11,"t":0.18,"i":-2.88},{"k":11,"t":0.185,"i":-2.98},{"k":11,"t":0.19,"i":-2.86},{"k":11,"t":0.195,"i":-2.96},
{"k":11,"t":0.2,"i":-2.92},{"k":11,"t":0.205,"i":-2.99},{"k":11,"t":0.21,"i":-2.88},{"k":11,"t":0.215,"i":-3.02},{"k":11,"t":0.22,"i":-2.90},{"k":11,"t":0.225,"i":-2.94},{"k":11,"t":0.23,"i":-2.86},{"k":11,"t":0.235,"i":-2.98},{"k":11,"t":0.24,"i":-2.91},{"k":11,"t":0.245,"i":-2.96},{"k":11,"t":0.25,"i":-2.84},{"k":11,"t":0.255,"i":-3.00},{"k":11,"t":0.26,"i":-2.93},{"k":11,"t":0.265,"i":-2.89},{"k":11,"t":0.27,"i":-2.99},{"k":11,"t":0.275,"i":-2.87},{"k":11,"t":0.28,"i":-2.95},{"k":11,"t":0.285,"i":-2.90},{"k":11,"t":0.29,"i":-3.01},{"k":11,"t":0.295,"i":-2.88},
{"k":11,"t":0.3,"i":-2.96},{"k":11,"t":0.305,"i":-2.91},{"k":11,"t":0.31,"i":-2.85},{"k":11,"t":0.315,"i":-2.95},{"k":11,"t":0.32,"i":-2.98},{"k":11,"t":0.325,"i":-2.84},{"k":11,"t":0.33,"i":-2.93},{"k":11,"t":0.335,"i":-2.90},{"k":11,"t":0.34,"i":-2.97},{"k":11,"t":0.345,"i":-2.88},{"k":11,"t":0.35,"i":-3.01},{"k":11,"t":0.355,"i":-2.86},{"k":11,"t":0.36,"i":-2.94},{"k":11,"t":0.365,"i":-2.89},{"k":11,"t":0.37,"i":-2.99},{"k":11,"t":0.375,"i":-2.87},{"k":11,"t":0.38,"i":-2.92},{"k":11,"t":0.385,"i":-2.96},{"k":11,"t":0.39,"i":-2.84},{"k":11,"t":0.395,"i":-2.95},{"k":11,"t":0.3995,"i":-2.90},
{"k":11,"t":0.4,"i":-1.22},{"k":11,"t":0.405,"i":-1.228},{"k":11,"t":0.41,"i":-1.238},{"k":11,"t":0.42,"i":-1.222},{"k":11,"t":0.43,"i":-1.241},{"k":11,"t":0.44,"i":-1.226},{"k":11,"t":0.45,"i":-1.236},{"k":11,"t":0.46,"i":-1.219},{"k":11,"t":0.47,"i":-1.233},{"k":11,"t":0.48,"i":-1.245},{"k":11,"t":0.49,"i":-1.224},{"k":11,"t":0.5,"i":-1.237},{"k":11,"t":0.51,"i":-1.218},{"k":11,"t":0.52,"i":-1.231},{"k":11,"t":0.53,"i":-1.222},{"k":11,"t":0.54,"i":-1.239},{"k":11,"t":0.55,"i":-1.216},{"k":11,"t":0.56,"i":-1.229},{"k":11,"t":0.57,"i":-1.214},{"k":11,"t":0.58,"i":-1.225},{"k":11,"t":0.59,"i":-1.212},{"k":11,"t":0.5995,"i":-1.218},
{"k":11,"t":0.6,"i":0.005},{"k":11,"t":0.605,"i":0.03},{"k":11,"t":0.615,"i":0.045},{"k":11,"t":0.625,"i":0.015},{"k":11,"t":0.635,"i":0.035},{"k":11,"t":0.645,"i":0.04},{"k":11,"t":0.655,"i":0.01},{"k":11,"t":0.665,"i":0.035},{"k":11,"t":0.675,"i":0.015},{"k":11,"t":0.685,"i":0.045},{"k":11,"t":0.699,"i":0.01},
{"k":12,"t":0.0018,"i":0.005},{"k":12,"t":0.041,"i":0.005},{"k":12,"t":0.0412,"i":0.21},{"k":12,"t":0.0513,"i":0.21},{"k":12,"t":0.0515,"i":0.005},{"k":12,"t":0.0995,"i":0.005},
{"k":12,"t":0.1,"i":-2.94},{"k":12,"t":0.105,"i":-3.08},{"k":12,"t":0.11,"i":-2.98},{"k":12,"t":0.115,"i":-3.05},{"k":12,"t":0.12,"i":-2.93},{"k":12,"t":0.125,"i":-3.03},{"k":12,"t":0.13,"i":-2.96},{"k":12,"t":0.135,"i":-3.01},{"k":12,"t":0.14,"i":-3.07},{"k":12,"t":0.145,"i":-2.94},{"k":12,"t":0.15,"i":-3.04},{"k":12,"t":0.155,"i":-2.92},{"k":12,"t":0.16,"i":-3.02},{"k":12,"t":0.165,"i":-2.99},{"k":12,"t":0.17,"i":-3.06},{"k":12,"t":0.175,"i":-2.95},{"k":12,"t":0.18,"i":-3.09},{"k":12,"t":0.185,"i":-2.97},{"k":12,"t":0.19,"i":-3.01},{"k":12,"t":0.195,"i":-2.93},
{"k":12,"t":0.2,"i":-3.04},{"k":12,"t":0.205,"i":-2.97},{"k":12,"t":0.21,"i":-3.02},{"k":12,"t":0.215,"i":-2.90},{"k":12,"t":0.22,"i":-3.06},{"k":12,"t":0.225,"i":-2.99},{"k":12,"t":0.23,"i":-2.95},{"k":12,"t":0.235,"i":-3.05},{"k":12,"t":0.24,"i":-2.93},{"k":12,"t":0.245,"i":-3.01},{"k":12,"t":0.25,"i":-2.96},{"k":12,"t":0.255,"i":-3.07},{"k":12,"t":0.26,"i":-2.94},{"k":12,"t":0.265,"i":-3.03},{"k":12,"t":0.27,"i":-2.98},{"k":12,"t":0.275,"i":-2.92},{"k":12,"t":0.28,"i":-3.02},{"k":12,"t":0.285,"i":-3.05},{"k":12,"t":0.29,"i":-2.91},{"k":12,"t":0.295,"i":-3.00},
{"k":12,"t":0.3,"i":-2.96},{"k":12,"t":0.305,"i":-3.03},{"k":12,"t":0.31,"i":-2.94},{"k":12,"t":0.315,"i":-3.07},{"k":12,"t":0.32,"i":-2.92},{"k":12,"t":0.325,"i":-3.00},{"k":12,"t":0.33,"i":-2.95},{"k":12,"t":0.335,"i":-3.05},{"k":12,"t":0.34,"i":-2.93},{"k":12,"t":0.345,"i":-2.98},{"k":12,"t":0.35,"i":-3.02},{"k":12,"t":0.355,"i":-2.90},{"k":12,"t":0.36,"i":-3.01},{"k":12,"t":0.365,"i":-2.96},{"k":12,"t":0.37,"i":-3.04},{"k":12,"t":0.375,"i":-2.92},{"k":12,"t":0.38,"i":-2.99},{"k":12,"t":0.385,"i":-2.94},{"k":12,"t":0.39,"i":-3.06},{"k":12,"t":0.395,"i":-2.95},{"k":12,"t":0.3995,"i":-3.03},
{"k":12,"t":0.4,"i":-1.43},{"k":12,"t":0.405,"i":-1.44},{"k":12,"t":0.41,"i":-1.452},{"k":12,"t":0.42,"i":-1.434},{"k":12,"t":0.43,"i":-1.455},{"k":12,"t":0.44,"i":-1.438},{"k":12,"t":0.45,"i":-1.449},{"k":12,"t":0.46,"i":-1.43},{"k":12,"t":0.47,"i":-1.447},{"k":12,"t":0.48,"i":-1.458},{"k":12,"t":0.49,"i":-1.436},{"k":12,"t":0.5,"i":-1.451},{"k":12,"t":0.51,"i":-1.43},{"k":12,"t":0.52,"i":-1.445},{"k":12,"t":0.53,"i":-1.433},{"k":12,"t":0.54,"i":-1.452},{"k":12,"t":0.55,"i":-1.428},{"k":12,"t":0.56,"i":-1.441},{"k":12,"t":0.57,"i":-1.425},{"k":12,"t":0.58,"i":-1.437},{"k":12,"t":0.59,"i":-1.422},{"k":12,"t":0.5995,"i":-1.43},
{"k":12,"t":0.6,"i":0.03},{"k":12,"t":0.6025,"i":0.015},{"k":12,"t":0.6125,"i":0.02},{"k":12,"t":0.6225,"i":0.05},{"k":12,"t":0.6325,"i":0.005},{"k":12,"t":0.6425,"i":0.03},{"k":12,"t":0.6525,"i":0.025},{"k":12,"t":0.6625,"i":0.04},{"k":12,"t":0.6725,"i":0.03},{"k":12,"t":0.6825,"i":0.005},{"k":12,"t":0.6925,"i":0.035},{"k":12,"t":0.699,"i":0.025}
]},
"mark":{"type":"line","color":"#000","strokeWidth":1.5,"clip":true},
"encoding":{
"x":{"field":"t","type":"quantitative","scale":{"domain":[0.0018,0.699],"nice":false,"zero":false},
"axis":{"title":"t [s]","values":[0.1,0.4,0.6],"format":".1f","grid":false,"tickSize":-6,"labelPadding":37,"labelBaseline":"alphabetic","labelFontSize":23,"labelColor":"#262626","labelFont":"DejaVu Sans","domainColor":"#555","tickColor":"#555","titleFontSize":25,"titleFontWeight":"normal","titleFont":"DejaVu Sans","titleColor":"#262626","titleBaseline":"alphabetic","titlePadding":27,"labelFlush":false,"labelOverlap":false}},
"y":{"field":"i","type":"quantitative","scale":{"domain":[-3.55,1.236],"nice":false,"zero":false},
"axis":{"title":"I [nA]","values":[-3,-2,-1,0,1],"labelExpr":"'' + datum.value","grid":false,"tickSize":-6,"labelPadding":38,"labelAlign":"left","labelBaseline":"middle","labelFontSize":23,"labelColor":"#262626","labelFont":"DejaVu Sans","domainColor":"#555","tickColor":"#555","titleFontSize":25,"titleFontWeight":"normal","titleFont":"DejaVu Sans","titleColor":"#262626","titleBaseline":"alphabetic","titlePadding":10,"labelOverlap":false}},
"detail":{"field":"k","type":"nominal"}
}},
{"data":{"values":[{}]},
"mark":{"type":"text","text":"25 °C\u00a0 Deactivation","align":"right","baseline":"alphabetic","fontSize":19,"font":"DejaVu Sans","color":"#000"},
"encoding":{
"x":{"datum":0.694,"type":"quantitative"},
"y":{"datum":1.2,"type":"quantitative","axis":{"orient":"right","title":"BBP Channelpedia ID 19938 rep 2","labels":false,"ticks":false,"domain":false,"grid":false,"titleAngle":270,"titleFontSize":13.5,"titleFontWeight":"normal","titleFont":"DejaVu Sans","titleColor":"#000","titleBaseline":"alphabetic","titlePadding":16}}
}},
{"data":{"values":[{}]},
"mark":{"type":"text","text":"Kir1.1\u00a0 Rat\u00a0 CHO_FT","align":"left","baseline":"alphabetic","fontSize":22.5,"fontWeight":"bold","font":"DejaVu Sans","color":"#000","clip":false},
"encoding":{
"x":{"datum":0.019,"type":"quantitative"},
"y":{"datum":1.413,"type":"quantitative","axis":null}
}}
]
}
